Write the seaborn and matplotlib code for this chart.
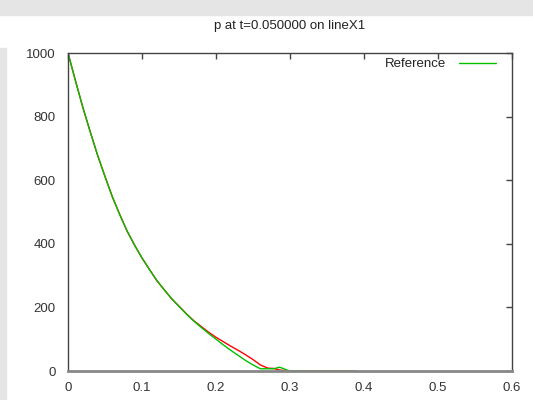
import pandas as pd
import matplotlib
matplotlib.use("Agg")
import matplotlib.pyplot as plt
from matplotlib.patches import Rectangle
import seaborn as sns

# values
x_pos = [0.000, 0.010, 0.020, 0.030, 0.040, 0.050, 0.060, 0.070, 0.080, 0.090,
         0.100, 0.110, 0.120, 0.130, 0.140, 0.150, 0.160, 0.170, 0.180, 0.190,
         0.200, 0.210, 0.220, 0.230, 0.240, 0.250, 0.260, 0.270, 0.278, 0.286,
         0.295, 0.300, 0.350, 0.390]
p_reference = [1000, 913, 830, 752, 679, 611, 548, 491, 440, 395,
               356, 319, 285, 255, 228, 203, 179, 157, 137, 118,
               100, 82, 65, 49, 33, 19, 7, 7, 7, 12,
               4, 0, 0, 0]
p_computed = [1000, 914, 829, 753, 678, 612, 547, 492, 439, 396,
              355, 320, 284, 256, 227, 204, 180, 158, 140, 122,
              106, 92, 78, 65, 51, 36, 19, 9, 8, 3,
              1, 0, 0, 0]

x_ticks = [0, 0.1, 0.2, 0.3, 0.4, 0.5, 0.6]
x_tick_labels = ["0", "0.1", "0.2", "0.3", "0.4", "0.5", "0.6"]
y_ticks = [0, 200, 400, 600, 800, 1000]

title = "p at t=0.050000 on lineX1"


def main():
    sns.set_style("white")
    plt.rcParams["font.family"] = ["Liberation Sans", "DejaVu Sans"]

    df = pd.DataFrame({"x": x_pos, "computed": p_computed, "reference": p_reference})

    fig = plt.figure(figsize=(5.33, 4.0), dpi=100)
    fig.patch.set_facecolor("white")
    # screenshot frame bits
    fig.patches.append(Rectangle((0, 385 / 400), 1, 15 / 400, transform=fig.transFigure,
                                 color="#e5e5e5", zorder=0))
    fig.patches.append(Rectangle((0, 0), 6 / 533, 352 / 400, transform=fig.transFigure,
                                 color="#e5e5e5", zorder=0))

    ax = fig.add_axes([68 / 533, 29 / 400, 444 / 533, 318 / 400])

    sns.lineplot(data=df, x="x", y="computed", ax=ax, color="#ff0000", linewidth=1,
                 sort=False, estimator=None, label="_nolegend_")
    sns.lineplot(data=df, x="x", y="reference", ax=ax, color="#00c000", linewidth=1,
                 sort=False, estimator=None, label="Reference")

    ax.set_xlim(0, 0.6)
    ax.set_ylim(0, 1000)
    ax.set_xticks(x_ticks)
    ax.set_xticklabels(x_tick_labels)
    ax.set_yticks(y_ticks)
    ax.set_xlabel("")
    ax.set_ylabel("")

    for sp in ax.spines.values():
        sp.set_color("#444444")
        sp.set_linewidth(1)
    ax.spines["bottom"].set_color("#888888")
    ax.spines["bottom"].set_linewidth(2)

    ax.tick_params(direction="in", length=4, width=1, color="#444444",
                   top=True, right=True, labelsize=9.5, labelcolor="#333333")
    ax.tick_params(axis="x", pad=8)
    ax.tick_params(axis="y", pad=9)

    ax.set_title(title, fontsize=9.5, color="#222222", pad=17)

    ax.legend(loc="upper right", bbox_to_anchor=(1 - 8 / 444, 1 + 3 / 318),
              frameon=False, markerfirst=False, fontsize=9.5,
              handlelength=2.8, handletextpad=1.0, borderaxespad=0.2,
              labelcolor="#222222")

    fig.savefig("out.png", dpi=100, facecolor=fig.get_facecolor())


if __name__ == "__main__":
    main()
